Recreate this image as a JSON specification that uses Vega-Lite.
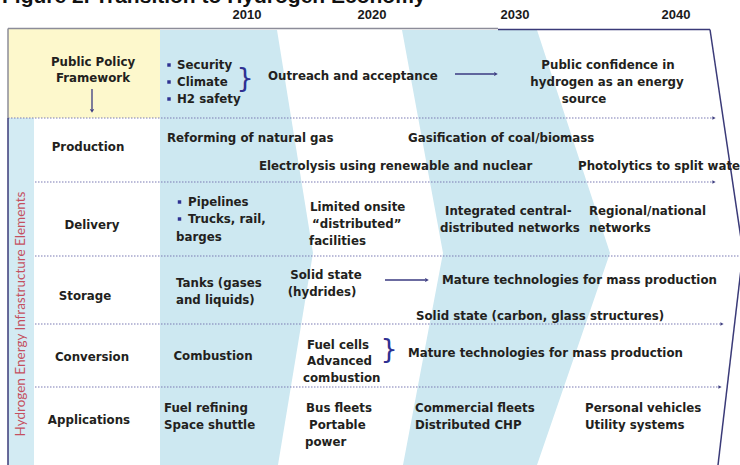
{
  "$schema": "https://vega.github.io/schema/vega-lite/v6.json",
  "width": 740,
  "height": 465,
  "padding": 0,
  "autosize": {"type": "fit", "contains": "padding"},
  "background": "white",
  "config": {"view": {"stroke": null}},
  "datasets": {
    "bands": [
      {"band": "b1", "y": 30, "x": 160, "x2": 277},
      {"band": "b1", "y": 253, "x": 160, "x2": 313},
      {"band": "b1", "y": 465, "x": 160, "x2": 278},
      {"band": "b2", "y": 30, "x": 402, "x2": 537},
      {"band": "b2", "y": 253, "x": 443, "x2": 610},
      {"band": "b2", "y": 465, "x": 403, "x2": 537}
    ],
    "yellowbox": [{"x": 8, "x2": 160, "y": 29, "y2": 118}],
    "strip": [{"x": 8, "x2": 34, "y": 118, "y2": 465}],
    "framegray": [
      {"x": 8, "x2": 498, "y": 28.5, "y2": 28.5},
      {"x": 8, "x2": 8, "y": 28.5, "y2": 118}
    ],
    "frame": [
      {"x": 498, "x2": 710, "y": 29.5, "y2": 29.5},
      {"x": 710, "x2": 743, "y": 29.5, "y2": 252},
      {"x": 743, "x2": 718, "y": 252, "y2": 465},
      {"x": 8, "x2": 8, "y": 118, "y2": 465}
    ],
    "dots": [
      {"x": 8, "x2": 712, "y": 118, "y2": 118},
      {"x": 35, "x2": 712, "y": 182, "y2": 182},
      {"x": 35, "x2": 740, "y": 256, "y2": 256},
      {"x": 35, "x2": 720, "y": 324, "y2": 324},
      {"x": 35, "x2": 718, "y": 387, "y2": 387}
    ],
    "dotheads": [
      {"x": 714, "y": 118},
      {"x": 714, "y": 182},
      {"x": 722, "y": 324},
      {"x": 720, "y": 387}
    ],
    "arrows": [
      {"x": 92, "x2": 92, "y": 89, "y2": 109},
      {"x": 455, "x2": 494, "y": 74, "y2": 74},
      {"x": 385, "x2": 425, "y": 280, "y2": 280}
    ],
    "headsright": [
      {"x": 496, "y": 74},
      {"x": 427, "y": 280}
    ],
    "headsdown": [{"x": 92, "y": 111}],
    "bullets": [
      {"x": 169, "y": 65},
      {"x": 169, "y": 82},
      {"x": 169, "y": 99},
      {"x": 179.5, "y": 202},
      {"x": 179.5, "y": 219}
    ],
    "braces": [
      {"x": 245, "y": 79, "t": "}"},
      {"x": 389, "y": 350, "t": "}"}
    ],
    "body": [
      {"x": 268, "y": 76, "t": "Outreach and acceptance"},
      {"x": 177, "y": 65, "t": "Security"},
      {"x": 177, "y": 82, "t": "Climate"},
      {"x": 177, "y": 99, "t": "H2 safety"},
      {"x": 167, "y": 138, "t": "Reforming of natural gas"},
      {"x": 408, "y": 138, "t": "Gasification of coal/biomass"},
      {"x": 259, "y": 166, "t": "Electrolysis using renewable and nuclear"},
      {"x": 578, "y": 166, "t": "Photolytics to split water"},
      {"x": 188, "y": 202, "t": "Pipelines"},
      {"x": 188, "y": 219, "t": "Trucks, rail,"},
      {"x": 176, "y": 237, "t": "barges"},
      {"x": 310, "y": 207, "t": "Limited onsite"},
      {"x": 312, "y": 224, "t": "“distributed”"},
      {"x": 309, "y": 241, "t": "facilities"},
      {"x": 445, "y": 211, "t": "Integrated central-"},
      {"x": 440, "y": 228, "t": "distributed networks"},
      {"x": 589, "y": 211, "t": "Regional/national"},
      {"x": 589, "y": 228, "t": "networks"},
      {"x": 176, "y": 283, "t": "Tanks (gases"},
      {"x": 176, "y": 300, "t": "and liquids)"},
      {"x": 442, "y": 280, "t": "Mature technologies for mass production"},
      {"x": 416, "y": 316, "t": "Solid state (carbon, glass structures)"},
      {"x": 307, "y": 345, "t": "Fuel cells"},
      {"x": 307, "y": 361, "t": "Advanced"},
      {"x": 303, "y": 378, "t": "combustion"},
      {"x": 408, "y": 353, "t": "Mature technologies for mass production"},
      {"x": 164, "y": 408, "t": "Fuel refining"},
      {"x": 164, "y": 425, "t": "Space shuttle"},
      {"x": 306, "y": 408, "t": "Bus fleets"},
      {"x": 309, "y": 425, "t": "Portable"},
      {"x": 305, "y": 442, "t": "power"},
      {"x": 415, "y": 408, "t": "Commercial fleets"},
      {"x": 415, "y": 425, "t": "Distributed CHP"},
      {"x": 585, "y": 408, "t": "Personal vehicles"},
      {"x": 585, "y": 425, "t": "Utility systems"}
    ],
    "centered": [
      {"x": 93, "y": 62, "t": "Public Policy"},
      {"x": 93, "y": 78, "t": "Framework"},
      {"x": 608, "y": 65, "t": "Public confidence in"},
      {"x": 607, "y": 82, "t": "hydrogen as an energy"},
      {"x": 584, "y": 99, "t": "source"},
      {"x": 326, "y": 275, "t": "Solid state"},
      {"x": 322, "y": 292, "t": "(hydrides)"},
      {"x": 213, "y": 356, "t": "Combustion"},
      {"x": 88, "y": 147, "t": "Production"},
      {"x": 92, "y": 225, "t": "Delivery"},
      {"x": 85, "y": 296, "t": "Storage"},
      {"x": 92, "y": 357, "t": "Conversion"},
      {"x": 89, "y": 420, "t": "Applications"}
    ],
    "years": [
      {"x": 247, "y": 14.5, "t": "2010"},
      {"x": 372, "y": 14.5, "t": "2020"},
      {"x": 515, "y": 14.5, "t": "2030"},
      {"x": 676, "y": 14.5, "t": "2040"}
    ],
    "title": [{"x": 2, "y": 3, "t": "Figure 2. Transition to Hydrogen Economy"}],
    "side": [{"x": 21, "y": 314, "t": "Hydrogen Energy Infrastructure Elements"}]
  },
  "encoding": {
    "x": {"field": "x", "type": "quantitative", "axis": null, "scale": {"domain": [0, 740], "nice": false, "zero": false}},
    "y": {"field": "y", "type": "quantitative", "axis": null, "scale": {"domain": [0, 465], "reverse": true, "nice": false, "zero": false}}
  },
  "layer": [
    {
      "data": {"name": "bands"},
      "mark": {"type": "area", "orient": "horizontal", "color": "#cde8f1", "clip": true},
      "encoding": {"x2": {"field": "x2"}, "detail": {"field": "band"}}
    },
    {
      "data": {"name": "yellowbox"},
      "mark": {"type": "rect", "color": "#fdf8cc"},
      "encoding": {"x2": {"field": "x2"}, "y2": {"field": "y2"}}
    },
    {
      "data": {"name": "strip"},
      "mark": {"type": "rect", "color": "#d3ebf3"},
      "encoding": {"x2": {"field": "x2"}, "y2": {"field": "y2"}}
    },
    {
      "data": {"name": "dots"},
      "mark": {"type": "rule", "color": "#7b7bb3", "strokeWidth": 1.2, "strokeDash": [1.5, 1.5], "clip": true},
      "encoding": {"x2": {"field": "x2"}, "y2": {"field": "y2"}}
    },
    {
      "data": {"name": "dotheads"},
      "mark": {"type": "point", "shape": "triangle-right", "filled": true, "color": "#3d3d80", "size": 14, "opacity": 1},
      "encoding": {}
    },
    {
      "data": {"name": "framegray"},
      "mark": {"type": "rule", "color": "#8c8c99", "strokeWidth": 1.5},
      "encoding": {"x2": {"field": "x2"}, "y2": {"field": "y2"}}
    },
    {
      "data": {"name": "frame"},
      "mark": {"type": "rule", "color": "#3a3a78", "strokeWidth": 1.5, "clip": true},
      "encoding": {"x2": {"field": "x2"}, "y2": {"field": "y2"}}
    },
    {
      "data": {"name": "arrows"},
      "mark": {"type": "rule", "color": "#3a3a80", "strokeWidth": 1.3},
      "encoding": {"x2": {"field": "x2"}, "y2": {"field": "y2"}}
    },
    {
      "data": {"name": "headsright"},
      "mark": {"type": "point", "shape": "triangle-right", "filled": true, "color": "#3a3a80", "size": 18, "opacity": 1},
      "encoding": {}
    },
    {
      "data": {"name": "headsdown"},
      "mark": {"type": "point", "shape": "triangle-down", "filled": true, "color": "#3a3a80", "size": 18, "opacity": 1},
      "encoding": {}
    },
    {
      "data": {"name": "bullets"},
      "mark": {"type": "point", "shape": "square", "filled": true, "color": "#2e3192", "size": 12, "opacity": 1},
      "encoding": {}
    },
    {
      "data": {"name": "braces"},
      "mark": {"type": "text", "font": "DejaVu Sans", "fontWeight": "normal", "fontSize": 27, "color": "#2e3192", "align": "center", "baseline": "middle"},
      "encoding": {"text": {"field": "t"}}
    },
    {
      "data": {"name": "body"},
      "mark": {"type": "text", "font": "DejaVu Sans", "fontWeight": "bold", "fontSize": 11.8, "color": "#231f20", "align": "left", "baseline": "middle", "clip": true},
      "encoding": {"text": {"field": "t"}}
    },
    {
      "data": {"name": "centered"},
      "mark": {"type": "text", "font": "DejaVu Sans", "fontWeight": "bold", "fontSize": 11.8, "color": "#231f20", "align": "center", "baseline": "middle"},
      "encoding": {"text": {"field": "t"}}
    },
    {
      "data": {"name": "years"},
      "mark": {"type": "text", "font": "Liberation Sans", "fontWeight": "bold", "fontSize": 13, "color": "#1a1a1a", "align": "center", "baseline": "middle"},
      "encoding": {"text": {"field": "t"}}
    },
    {
      "data": {"name": "title"},
      "mark": {"type": "text", "font": "Liberation Sans", "fontWeight": "bold", "fontSize": 21, "color": "#111111", "align": "left", "baseline": "alphabetic", "clip": true},
      "encoding": {"text": {"field": "t"}}
    },
    {
      "data": {"name": "side"},
      "mark": {"type": "text", "font": "Lato", "fontWeight": "normal", "fontSize": 13.5, "color": "#c4505f", "align": "center", "baseline": "middle", "angle": 270},
      "encoding": {"text": {"field": "t"}}
    }
  ]
}
